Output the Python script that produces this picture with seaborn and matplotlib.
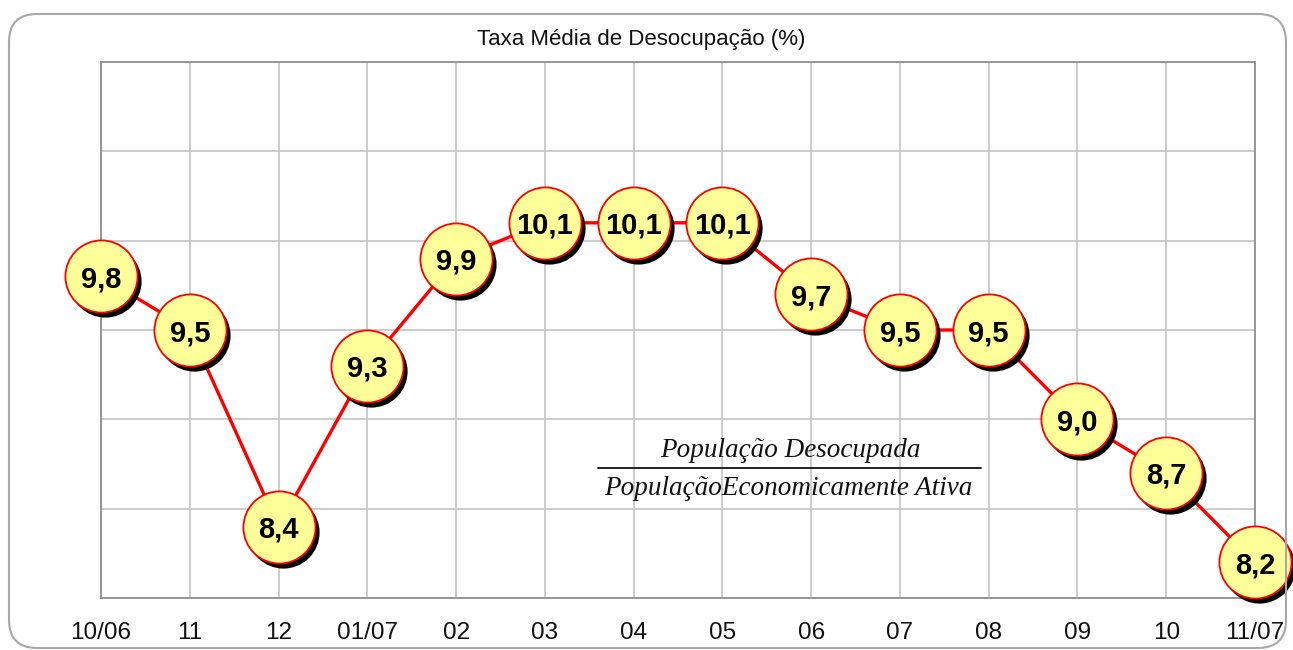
import numpy as np
import pandas as pd
import seaborn as sns
import matplotlib
matplotlib.use("Agg")
import matplotlib.pyplot as plt
from matplotlib.transforms import offset_copy, IdentityTransform
from matplotlib.patches import FancyBboxPatch
from matplotlib.lines import Line2D

# ---- data ----
months = ["10/06", "11", "12", "01/07", "02", "03", "04", "05",
          "06", "07", "08", "09", "10", "11/07"]
rates = [9.8, 9.5, 8.4, 9.3, 9.9, 10.1, 10.1, 10.1, 9.7, 9.5, 9.5, 9.0, 8.7, 8.2]
value_labels = [f"{v:.1f}".replace(".", ",") for v in rates]
title = "Taxa Média de Desocupação (%)"
numerator = "População Desocupada"
denominator = "PopulaçãoEconomicamente Ativa"

df = pd.DataFrame({"pos": np.arange(len(months)), "rate": rates, "label": value_labels})

sns.set_theme(style="white")
plt.rcParams['font.family'] = ['Liberation Sans', 'DejaVu Sans']

W, H = 1293, 650
fig = plt.figure(figsize=(W / 100, H / 100), dpi=100)
fig.patch.set_facecolor("white")
ax = fig.add_axes([101 / W, 1 - 598 / H, (1255 - 101) / W, (598 - 62) / H])
ax.set_facecolor("white")

# line
sns.lineplot(data=df, x="pos", y="rate", color="#FF0000", linewidth=2.4,
             ax=ax, zorder=2, legend=False)

# shadows
shadow_tr = offset_copy(ax.transData, fig=fig, x=4, y=-5, units='dots')
ax.scatter(df["pos"], df["rate"], s=2700, color="black", linewidths=0,
           transform=shadow_tr, clip_on=False, zorder=3)
# markers
sns.scatterplot(data=df, x="pos", y="rate", s=2700, color="#FFFF99",
                edgecolor="#FF0000", linewidth=1.3, ax=ax, zorder=4,
                clip_on=False, legend=False)

for x, y, lab in zip(df["pos"], df["rate"], df["label"]):
    ax.text(x, y, lab, ha="center", va="center_baseline", fontsize=21,
            fontweight="bold", color="black", zorder=5, clip_on=False)

ax.set_xlim(0, len(months) - 1)
ax.set_ylim(8.0, 11.0)
ax.set_xticks(df["pos"])
ax.set_xticklabels(months, fontsize=17.5, color="#111111")
ax.set_yticks(np.arange(8.0, 11.01, 0.5))
ax.set_yticklabels([])
ax.tick_params(axis="y", length=0)
ax.tick_params(axis="x", length=5, width=1.2, color="#C0C0C0", pad=12)
ax.grid(True, color="#C8C8C8", linewidth=1.3)
ax.set_axisbelow(True)
for s in ax.spines.values():
    s.set_color("#909090")
    s.set_linewidth(1.3)
ax.set_xlabel("")
ax.set_ylabel("")

fig.text(641 / W, 1 - 40 / H, title, fontsize=16, color="#111111",
         ha="center", va="center")

# formula
serif = ["Liberation Serif", "DejaVu Serif"]
ax.text(0.597, 0.275, numerator, transform=ax.transAxes, ha="center", va="center",
        fontsize=19.5, fontstyle="italic", family=serif,
        color="#111111", zorder=1.5)
ax.add_line(Line2D([0.4307, 0.7626], [0.2425, 0.2425], transform=ax.transAxes,
                   color="#111111", linewidth=1.3, zorder=1.5))
ax.text(0.596, 0.205, denominator, transform=ax.transAxes, ha="center", va="center",
        fontsize=19.5, fontstyle="italic", family=serif,
        color="#111111", zorder=1.5)

# outer rounded frame (pixel coordinates)
frame = FancyBboxPatch((9, H - 648), 1286 - 9, 648 - 14,
                       boxstyle="round,pad=0,rounding_size=28",
                       transform=IdentityTransform(), facecolor="none",
                       edgecolor="#A8A8A8", linewidth=1.5)
fig.add_artist(frame)

fig.savefig("out.png", dpi=100)
